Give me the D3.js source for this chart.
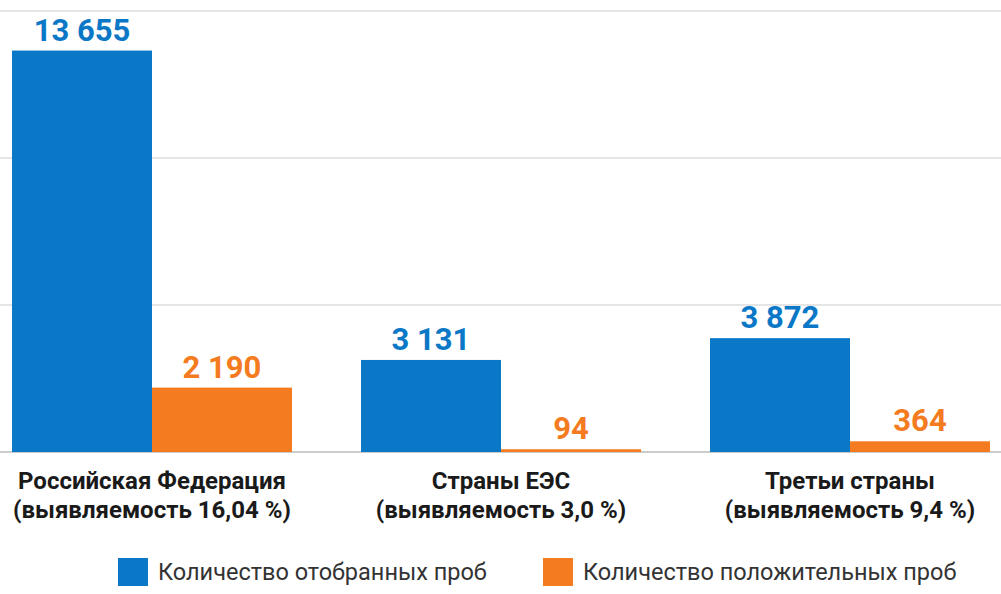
<!DOCTYPE html>
<html><head><meta charset="utf-8">
<script src="https://cdn.jsdelivr.net/npm/d3@7"></script>
<style>body{margin:0;background:#fff}</style>
</head><body><div id="chart"></div>
<script>
const categories = ['Российская Федерация', 'Страны ЕЭС', 'Третьи страны'];
const subtitles = ['(выявляемость 16,04 %)', '(выявляемость 3,0 %)', '(выявляемость 9,4 %)'];
const seriesNames = ['Количество отобранных проб', 'Количество положительных проб'];
const sampled = [13655, 3131, 3872];
const positive = [2190, 94, 364];
const gridTicks = [0, 5000, 10000, 15000];

const WIDTH = 1001, HEIGHT = 594;
const COLORS = ['#0a78c6', '#f47b20'];
const fmt = (v) => d3.format(',')(v).replace(/,/g, ' ');

const svg = d3.select('#chart').append('svg').attr('width', WIDTH).attr('height', HEIGHT);

const y = d3.scaleLinear().domain([0, 15000]).range([452, 11]);
const x0 = d3.scaleBand().domain(categories)
  .range([12 - 34.5, 12 - 34.5 + 3 * 349])
  .paddingInner(69 / 349).paddingOuter(34.5 / 349);
const x1 = d3.scaleBand().domain([0, 1]).range([0, x0.bandwidth()]);

svg.append('g').selectAll('line').data(gridTicks).enter().append('line')
  .attr('x1', 0).attr('x2', WIDTH)
  .attr('y1', (d) => y(d)).attr('y2', (d) => y(d))
  .attr('stroke', (d) => d === 0 ? '#999' : '#ccc').attr('stroke-width', 1.2);

const rows = categories.map((c, i) => ({ c, vals: [sampled[i], positive[i]] }));
const g = svg.append('g').selectAll('g').data(rows).enter().append('g')
  .attr('transform', (d) => `translate(${x0(d.c)},0)`);

g.selectAll('rect').data((d) => d.vals.map((v, k) => ({ v, k }))).enter().append('rect')
  .attr('x', (d) => x1(d.k)).attr('width', x1.bandwidth())
  .attr('y', (d) => y(d.v)).attr('height', (d) => y(0) - y(d.v))
  .attr('fill', (d) => COLORS[d.k]);

g.selectAll('text.val').data((d) => d.vals.map((v, k) => ({ v, k }))).enter().append('text')
  .attr('class', 'val')
  .attr('x', (d) => x1(d.k) + x1.bandwidth() / 2).attr('y', (d) => y(d.v) - 10)
  .attr('text-anchor', 'middle').attr('font-family', 'Roboto, sans-serif')
  .attr('font-weight', 'bold').attr('font-size', 31).attr('fill', (d) => COLORS[d.k])
  .text((d) => fmt(d.v));

categories.forEach((c, i) => {
  const cx = x0(c) + x0.bandwidth() / 2;
  const t = svg.append('text').attr('text-anchor', 'middle')
    .attr('font-family', 'Roboto, sans-serif').attr('font-weight', 'bold')
    .attr('font-size', 24).attr('fill', '#1a1a1a');
  t.append('tspan').attr('x', cx).attr('y', 489).text(c);
  t.append('tspan').attr('x', cx).attr('y', 518).text(subtitles[i]);
});

const legendX = [118, 543];
seriesNames.forEach((n, k) => {
  svg.append('rect').attr('x', legendX[k]).attr('y', 558).attr('width', 30).attr('height', 28)
    .attr('fill', COLORS[k]);
  svg.append('text').attr('x', legendX[k] + 40).attr('y', 580)
    .attr('font-family', 'Roboto, sans-serif').attr('font-size', 23.5).attr('fill', '#333')
    .text(n);
});
</script></body></html>
